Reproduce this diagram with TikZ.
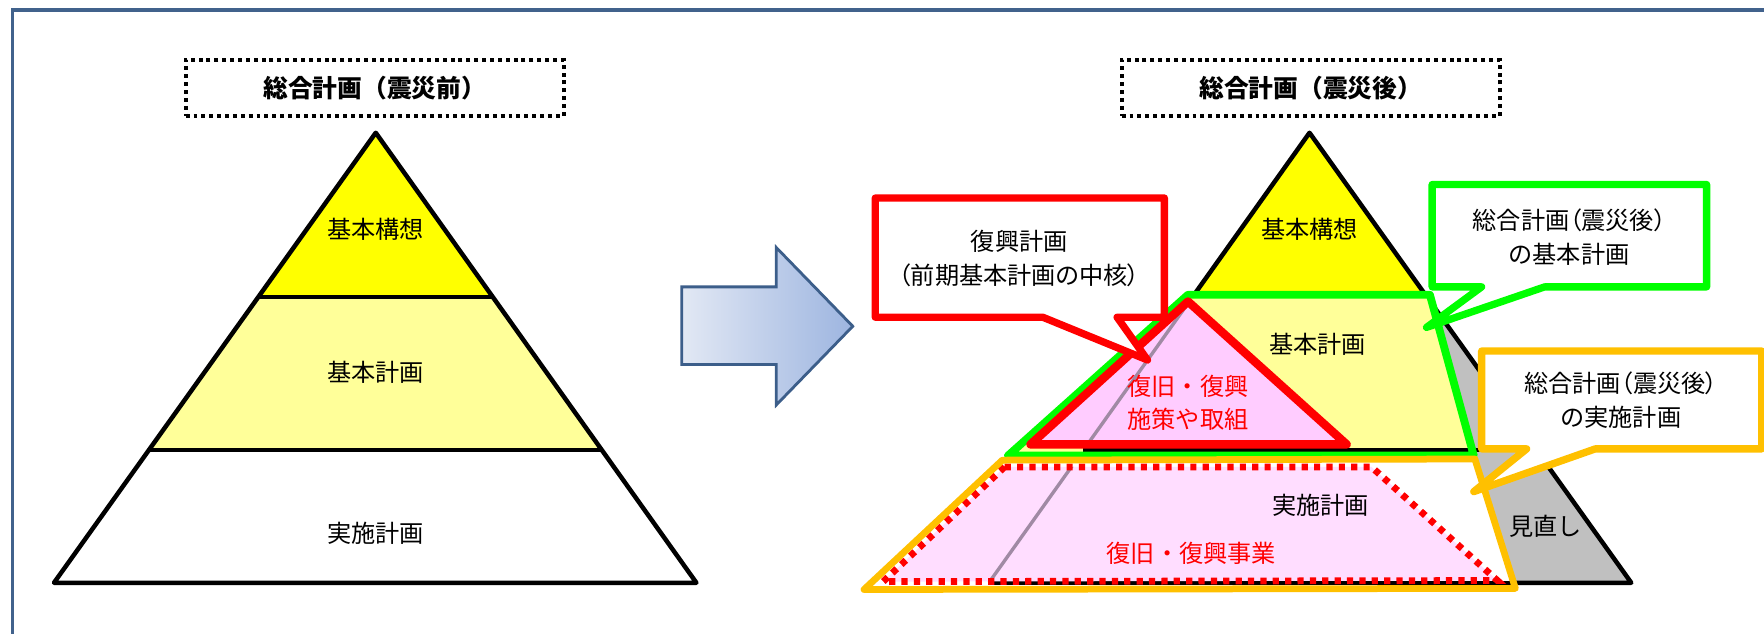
\documentclass[tikz,border=0pt]{standalone}
\usepackage{fontspec}
\setmainfont{Noto Sans CJK JP}
\newfontfamily\paltfont{Noto Sans CJK JP}[RawFeature=+palt]
\usetikzlibrary{calc}

\definecolor{framecol}{HTML}{41628C}
\definecolor{arrowcol}{HTML}{3C5E8A}
\definecolor{arrowleft}{HTML}{E2E8F4}
\definecolor{arrowright}{HTML}{9DB5E0}
\definecolor{topyellow}{HTML}{FFFF00}
\definecolor{midyellow}{HTML}{FFFF99}
\definecolor{reviewgray}{HTML}{C0C0C0}
\definecolor{plangreen}{HTML}{00FF00}
\definecolor{planred}{HTML}{FF0000}
\definecolor{planorange}{HTML}{FFC000}
\definecolor{pinkfill}{HTML}{FFCCFF}
\definecolor{lightpink}{HTML}{FFDDFF}
\definecolor{edgepurple}{HTML}{A08AA4}

\tikzset{
  pyr/.style={draw=black, line width=4pt, line join=round},
  layer/.style={font=\fontsize{21.5}{26}\selectfont},
  titlebox/.style={draw=black, line width=3.5pt, dash pattern=on 3.5pt off 3.5pt,
    minimum width=336pt, minimum height=50pt, font=\bfseries\fontsize{22}{26}\selectfont},
  callout/.style={fill=white, line width=6.5pt, line join=round},
  note/.style={align=center, font=\paltfont\fontsize{21.5}{30}\selectfont},
}

\begin{document}
\begin{tikzpicture}[x=1pt,y=-1pt]
        \useasboundingbox (0,0) rectangle (1568,563);
        \draw[framecol, line width=3pt] (11,9) rectangle (1700,700);

        % before the disaster
        \node[titlebox] (before) at (333,78) {総合計画（震災前）};
        \coordinate (apexL) at (334,118);
        \coordinate (blL) at (48,518);
        \coordinate (brL) at (619,518);
        \fill[topyellow] (apexL) -- ($(apexL)!.365!(blL)$) -- ($(apexL)!.365!(brL)$) -- cycle;
        \fill[midyellow] ($(apexL)!.365!(blL)$) -- ($(apexL)!.705!(blL)$)
                -- ($(apexL)!.705!(brL)$) -- ($(apexL)!.365!(brL)$) -- cycle;
        \draw[pyr] ($(apexL)!.365!(blL)$) -- ($(apexL)!.365!(brL)$)
                ($(apexL)!.705!(blL)$) -- ($(apexL)!.705!(brL)$);
        \draw[pyr] (apexL) -- (blL) -- (brL) -- cycle;
        \node[layer] (visionL) at (334,204) {基本構想};
        \node[layer] (basicL) at (334,331) {基本計画};
        \node[layer] (actionL) at (334,474) {実施計画};

        \path[draw=arrowcol, line width=2.5pt, left color=arrowleft, right color=arrowright]
                (606,255) -- (690,255) -- (690,220) -- (758,290) -- (690,360)
                -- (690,324) -- (606,324) -- cycle;

        % after the disaster
        \node[titlebox] (after) at (1165,78) {総合計画（震災後）};
        \coordinate (apexR) at (1164,118);
        \coordinate (blR) at (879,518);
        \coordinate (brR) at (1450,518);
        \fill[reviewgray] (apexR) -- (blR) -- (brR) -- cycle;
        \fill[topyellow] (apexR) -- ($(apexR)!.36!(blR)$) -- ($(apexR)!.36!(brR)$) -- cycle;
        \draw[pyr] ($(apexR)!.36!(blR)$) -- ($(apexR)!.36!(brR)$);
        \draw[pyr] (apexR) -- (blR) -- (brR) -- cycle;

        \coordinate (g1) at (1056,262);
        \coordinate (g2) at (1271,262);
        \coordinate (g3) at (1310,405);
        \coordinate (g4) at (896,405);
        \fill[midyellow] (g1) -- (g2) -- (g3) -- (g4) -- cycle;
        \draw[pyr] ($(apexR)!.705!(blR)$) -- ($(apexR)!.705!(brR)$);
        \draw[plangreen, line width=7pt, line join=round] (g1) -- (g2) -- (g3) -- (g4) -- cycle;

        \coordinate (r1) at (1056,268);
        \coordinate (r2) at (916,395);
        \coordinate (r3) at (1197,395);
        \fill[pinkfill] (r1) -- (r2) -- (r3) -- cycle;
        \begin{scope}
          \clip (r1) -- (r2) -- (r3) -- cycle;
          \draw[edgepurple, line width=3pt] (apexR) -- (blR);
        \end{scope}
        \draw[planred, line width=7.5pt, line join=round] (r1) -- (r2) -- (r3) -- cycle;

        \coordinate (o1) at (891,409);
        \coordinate (o2) at (1311,408);
        \coordinate (o3) at (1347,523);
        \coordinate (o4) at (768,524);
        \coordinate (d1) at (893,415);
        \coordinate (d2) at (1219,415);
        \coordinate (d3) at (1331,516);
        \coordinate (d4) at (785,517);
        \fill[white] (o1) -- (o2) -- (o3) -- (o4) -- cycle;
        \draw[pyr] (blR) -- (1345,518);
        \fill[lightpink] (d1) -- (d2) -- (d3) -- (d4) -- cycle;
        \begin{scope}
          \clip (d1) -- (d2) -- (d3) -- (d4) -- cycle;
          \draw[edgepurple, line width=3pt] (apexR) -- (blR);
        \end{scope}
        \draw[planred, line width=6pt, dash pattern=on 5.5pt off 5.5pt] (d1) -- (d2) -- (d3) -- (d4) -- cycle;
        \draw[planorange, line width=6pt, line join=round] (o1) -- (o2) -- (o3) -- (o4) -- cycle;

        \node[layer] (visionR) at (1164,204) {基本構想};
        \node[layer] (basicR) at (1171,306) {基本計画};
        \node[layer, text=planred, align=center, font=\fontsize{21.5}{29}\selectfont]
                (measures) at (1056,358) {復旧・復興\\施策や取組};
        \node[layer] (actionR) at (1174,449) {実施計画};
        \node[layer, text=planred] (projects) at (1059,492) {復旧・復興事業};
        \node[layer] (review) at (1374,468) {見直し};

        % callouts
        \draw[callout, draw=planred] (778,176) -- (1035,176) -- (1035,282) -- (993,282)
                -- (1020,320) -- (927,282) -- (778,282) -- cycle;
        \node[note] (revival) at (906,230) {復興計画\\（前期基本計画の中核）};
        \draw[callout, draw=plangreen] (1273,164) -- (1517,164) -- (1517,255) -- (1373,255)
                -- (1268,291) -- (1317,255) -- (1273,255) -- cycle;
        \node[note] (basicnote) at (1395,211) {総合計画（震災後）\\の基本計画};
        \draw[callout, draw=planorange] (1317,312) -- (1566,312) -- (1566,399) -- (1418,399)
                -- (1310,437) -- (1357,399) -- (1317,399) -- cycle;
        \node[note] (actionnote) at (1441,356) {総合計画（震災後）\\の実施計画};
\end{tikzpicture}
\end{document}
